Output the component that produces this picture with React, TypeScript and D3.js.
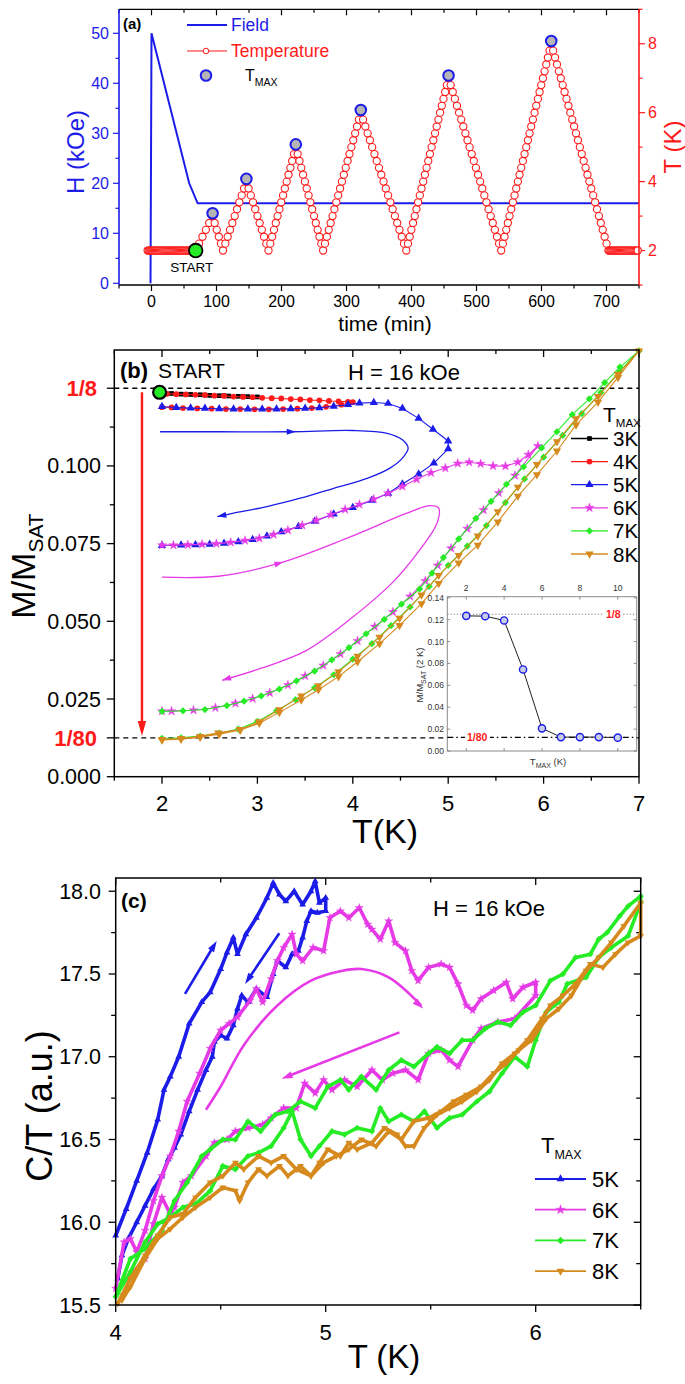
import React from "react";
import * as d3 from "d3";

type P = [number, number];
const FONT = "'Liberation Sans', Arial, Helvetica, sans-serif";
const BLUE = "#1c1ce8";
const RED = "#ff1a1a";
const MAG = "#e63ae6";
const GRN = "#25ec25";
const ORG = "#d68a1e";

// ================= Panel (a): protocol =================
const fieldTime = [-1.5, 0, 58, 71, 750];
const fieldH = [0, 50, 20, 16, 16];
const sweepTime = [-6, 68, 94, 110, 146, 180, 222, 264, 322, 392, 457, 538, 615, 703, 748];
const sweepTemp = [2, 2, 3, 2, 4, 2, 5, 2, 6, 2, 7, 2, 8, 2, 2];
const tempLevels = [2.0, 2.2, 2.4, 2.6, 2.8, 3.0, 3.2, 3.4, 3.6, 3.8, 4.0, 4.2, 4.4, 4.6, 4.8, 5.0, 5.2, 5.4, 5.6, 5.8, 6.0, 6.2, 6.4, 6.6, 6.8, 7.0, 7.2, 7.4, 7.6, 7.8, 8.0];
const holdStep = 1.6;
const tmaxTime = [94, 146, 222, 322, 457, 615];
const tmaxTemp = [3, 4, 5, 6, 7, 8];
const startTime = 68;
const startTemp = 2;
const timeTicks = [0, 100, 200, 300, 400, 500, 600, 700];
const hTicks = [0, 10, 20, 30, 40, 50];
const tTicksA = [2, 4, 6, 8];

// ================= Panel (b): M/Msat vs T =================
const bTicks = [2, 3, 4, 5, 6, 7];
const bMLabels = [0, 0.025, 0.05, 0.075, 0.1];
const bFracVals = [0.125, 0.0125];
const bFracLabels = ["1/8", "1/80"];
const bStart: P = [1.975, 0.1237];

const b3K: P[] = [[2.0, 0.1236], [2.1, 0.1233], [2.2, 0.1231], [2.3, 0.123], [2.4, 0.1229], [2.5, 0.1227], [2.6, 0.1226], [2.7, 0.1225], [2.8, 0.1224], [2.9, 0.1223], [3.0, 0.1222], [2.85, 0.1224], [2.65, 0.1226], [2.45, 0.1228], [2.25, 0.123], [2.05, 0.1232]];
const b4K: P[] = [[2.05, 0.1232], [2.15, 0.1231], [2.25, 0.123], [2.35, 0.1229], [2.45, 0.1228], [2.55, 0.1226], [2.65, 0.1225], [2.75, 0.1223], [2.85, 0.1222], [2.95, 0.1221], [3.05, 0.1219], [3.15, 0.1218], [3.25, 0.1217], [3.35, 0.1215], [3.45, 0.1214], [3.55, 0.1212], [3.65, 0.1211], [3.75, 0.1209], [3.85, 0.1208], [3.95, 0.1206], [4.0, 0.1205],
  [3.88, 0.1197], [3.72, 0.119], [3.57, 0.1186], [3.42, 0.1184], [3.27, 0.1183], [3.12, 0.1182], [2.97, 0.1182], [2.82, 0.1183], [2.67, 0.1183], [2.52, 0.1184], [2.37, 0.1185], [2.22, 0.1186], [2.1, 0.1188], [2.0, 0.1189]];
const b5K: P[] = [[2.0, 0.1191], [2.15, 0.1188], [2.3, 0.1186], [2.45, 0.1185], [2.6, 0.1184], [2.75, 0.1183], [2.9, 0.1183], [3.05, 0.1183], [3.2, 0.1183], [3.35, 0.1184], [3.5, 0.1185], [3.65, 0.1187], [3.8, 0.1192], [3.95, 0.1197], [4.07, 0.1202], [4.22, 0.1204], [4.37, 0.1201], [4.52, 0.1185], [4.69, 0.1153], [4.84, 0.1118], [5.0, 0.108],
  [5.0, 0.1055], [4.85, 0.1009], [4.69, 0.0974], [4.52, 0.0942], [4.37, 0.0912], [4.2, 0.0889], [4.0, 0.0866], [3.8, 0.0845], [3.6, 0.0822], [3.43, 0.0805], [3.25, 0.0788], [3.1, 0.0774], [2.95, 0.0763], [2.8, 0.0756], [2.65, 0.0751], [2.5, 0.0748], [2.35, 0.0746], [2.2, 0.0745], [2.0, 0.0744]];
const b6K: P[] = [[2.0, 0.0745], [2.12, 0.0745], [2.27, 0.0746], [2.42, 0.0748], [2.57, 0.075], [2.72, 0.0754], [2.87, 0.076], [3.02, 0.0767], [3.17, 0.0779], [3.32, 0.0793], [3.47, 0.0809], [3.62, 0.0825], [3.77, 0.0843], [3.92, 0.086], [4.07, 0.0876], [4.22, 0.0893], [4.37, 0.0912], [4.52, 0.0934], [4.67, 0.0957], [4.82, 0.0978], [4.97, 0.0993], [5.1, 0.1008], [5.22, 0.1012], [5.34, 0.1007], [5.47, 0.1], [5.6, 0.0999], [5.73, 0.1012], [5.84, 0.1036], [5.94, 0.1064],
  [5.7, 0.0969], [5.53, 0.0913], [5.37, 0.0858], [5.2, 0.0798], [5.03, 0.0735], [4.89, 0.068], [4.76, 0.063], [4.6, 0.058], [4.42, 0.053], [4.23, 0.0483], [4.05, 0.0437], [3.87, 0.0395], [3.69, 0.0358], [3.5, 0.0324], [3.32, 0.0295], [3.13, 0.027], [2.95, 0.0251], [2.77, 0.0236], [2.56, 0.0222], [2.33, 0.0214], [2.1, 0.0211], [2.0, 0.0211]];
const b7K: P[] = [[2.0, 0.021], [2.22, 0.0212], [2.45, 0.0216], [2.68, 0.0229], [2.86, 0.0243], [3.04, 0.026], [3.23, 0.0282], [3.41, 0.0308], [3.6, 0.034], [3.78, 0.0376], [3.96, 0.0415], [4.14, 0.046], [4.33, 0.0506], [4.51, 0.0555], [4.7, 0.0604], [4.83, 0.0655], [4.95, 0.0705], [5.11, 0.0765], [5.29, 0.0831], [5.45, 0.0886], [5.61, 0.0941], [5.79, 0.0997], [5.98, 0.1058], [6.14, 0.111], [6.3, 0.1165], [6.48, 0.1216], [6.64, 0.1268], [6.8, 0.1318], [7.0, 0.137],
  [6.8, 0.1305], [6.6, 0.1236], [6.4, 0.1168], [6.2, 0.1098], [6.0, 0.1028], [5.8, 0.0958], [5.6, 0.0882], [5.4, 0.0808], [5.2, 0.0742], [5.0, 0.068], [4.8, 0.0612], [4.6, 0.0546], [4.4, 0.0486], [4.2, 0.0428], [4.0, 0.0378], [3.8, 0.0328], [3.6, 0.0286], [3.4, 0.0248], [3.2, 0.0212], [3.0, 0.0178], [2.8, 0.0153], [2.6, 0.014], [2.4, 0.0131], [2.2, 0.0125], [2.0, 0.0123]];
const b8K: P[] = [[2.0, 0.0118], [2.2, 0.0121], [2.4, 0.0127], [2.6, 0.0137], [2.82, 0.015], [3.02, 0.0172], [3.23, 0.0207], [3.46, 0.0247], [3.64, 0.028], [3.85, 0.0322], [4.05, 0.037], [4.28, 0.0428], [4.49, 0.0487], [4.72, 0.0557], [4.9, 0.0622], [5.11, 0.0688], [5.31, 0.0745], [5.52, 0.082], [5.73, 0.0903], [5.93, 0.0972], [6.14, 0.1048], [6.34, 0.1132], [6.57, 0.1205], [6.78, 0.1285], [7.0, 0.137],
  [6.78, 0.1295], [6.57, 0.1224], [6.34, 0.1152], [6.14, 0.1078], [5.93, 0.1005], [5.73, 0.0932], [5.52, 0.0853], [5.31, 0.0775], [5.11, 0.0712], [4.9, 0.0648], [4.72, 0.0585], [4.49, 0.051], [4.28, 0.0449], [4.05, 0.0388], [3.85, 0.0338], [3.64, 0.0293], [3.46, 0.026], [3.23, 0.0216], [3.02, 0.0177], [2.82, 0.0152], [2.59, 0.0141], [2.4, 0.013], [2.2, 0.0123], [2.0, 0.012]];
const bBlueGuide: P[] = [[1.98, 0.111], [2.6, 0.111], [3.36, 0.111], [4.0, 0.1114], [4.36, 0.1105], [4.52, 0.1084], [4.58, 0.1057], [4.52, 0.1025], [4.39, 0.0993], [4.15, 0.096], [3.8, 0.0928], [3.45, 0.0896], [3.1, 0.0869], [2.75, 0.0848], [2.58, 0.0837]];
const bBlueMidArrow: P = [3.36, 0.111];
const bMagGuide: P[] = [[2.0, 0.0642], [2.59, 0.0645], [3.23, 0.0687], [3.96, 0.077], [4.56, 0.0847], [4.81, 0.0872], [4.9, 0.0864], [4.88, 0.0814], [4.69, 0.0725], [4.42, 0.0626], [3.96, 0.0504], [3.5, 0.0404], [3.04, 0.0349], [2.63, 0.031]];
const bMagMidArrow: P = [3.23, 0.0687];
const bRedArrowT = 1.79;
const bRedArrowM = [0.1237, 0.0131];
const bLegendLabels = ["3K", "4K", "5K", "6K", "7K", "8K"];

// inset
const insetTmax = [2, 3, 4, 5, 6, 7, 8, 9, 10];
const insetM = [0.1235, 0.1232, 0.1193, 0.0745, 0.0207, 0.0127, 0.0127, 0.0127, 0.0122];
const insetXTicks = [2, 4, 6, 8, 10];
const insetYTicks = [0, 0.02, 0.04, 0.06, 0.08, 0.1, 0.12, 0.14];

// ================= Panel (c): C/T vs T =================
const cTicks = [4, 5, 6];
const cYTicks = [15.5, 16.0, 16.5, 17.0, 17.5, 18.0];
const c5K: P[] = [[4.0, 15.92], [4.05, 16.08], [4.1, 16.25], [4.15, 16.42], [4.2, 16.62], [4.23, 16.8], [4.26, 16.88], [4.3, 17.0], [4.35, 17.2], [4.41, 17.33], [4.45, 17.39], [4.5, 17.53], [4.53, 17.63], [4.56, 17.72], [4.58, 17.62], [4.62, 17.74], [4.67, 17.84], [4.72, 17.96], [4.75, 18.05], [4.78, 17.98], [4.81, 17.94], [4.85, 18.0], [4.89, 17.92], [4.93, 18.0], [4.95, 18.06], [4.97, 17.93], [5.0, 17.96],
  [5.0, 17.88], [4.96, 17.87], [4.93, 17.88], [4.91, 17.82], [4.89, 17.72], [4.87, 17.64], [4.84, 17.62], [4.81, 17.54], [4.77, 17.58], [4.75, 17.5], [4.72, 17.36], [4.67, 17.41], [4.63, 17.33], [4.6, 17.37], [4.58, 17.29], [4.56, 17.19], [4.53, 17.11], [4.5, 17.13], [4.47, 17.09], [4.46, 17.0], [4.43, 16.92], [4.39, 16.8], [4.35, 16.67], [4.31, 16.53], [4.28, 16.45], [4.25, 16.38], [4.22, 16.28], [4.18, 16.2], [4.14, 16.1], [4.1, 16.0], [4.06, 15.9], [4.03, 15.8], [4.01, 15.66]];
const c6K: P[] = [[4.0, 15.6], [4.04, 15.88], [4.07, 15.9], [4.1, 15.82], [4.14, 15.95], [4.18, 16.13], [4.22, 16.28], [4.26, 16.4], [4.3, 16.55], [4.34, 16.73], [4.4, 16.9], [4.45, 17.05], [4.5, 17.16], [4.54, 17.2], [4.58, 17.24], [4.64, 17.34], [4.67, 17.41], [4.7, 17.33], [4.74, 17.47], [4.77, 17.58], [4.8, 17.66], [4.84, 17.74], [4.86, 17.62], [4.89, 17.58], [4.94, 17.66], [4.99, 17.64], [5.02, 17.84], [5.07, 17.88], [5.11, 17.84], [5.16, 17.9], [5.2, 17.8], [5.22, 17.77], [5.26, 17.71], [5.3, 17.82], [5.33, 17.69], [5.38, 17.64], [5.41, 17.52], [5.44, 17.46], [5.49, 17.54], [5.55, 17.56], [5.59, 17.54], [5.63, 17.44], [5.67, 17.31], [5.7, 17.28], [5.74, 17.35], [5.8, 17.4], [5.86, 17.45], [5.89, 17.35], [5.94, 17.42], [6.0, 17.45],
  [6.0, 17.37], [5.9, 17.23], [5.82, 17.21], [5.74, 17.17], [5.7, 17.1], [5.63, 16.94], [5.59, 16.98], [5.55, 17.04], [5.49, 17.02], [5.44, 16.86], [5.38, 16.92], [5.32, 16.9], [5.27, 16.86], [5.22, 16.92], [5.15, 16.82], [5.09, 16.86], [5.03, 16.8], [4.99, 16.86], [4.95, 16.78], [4.9, 16.84], [4.86, 16.69], [4.8, 16.69], [4.74, 16.63], [4.7, 16.59], [4.63, 16.57], [4.57, 16.55], [4.53, 16.5], [4.47, 16.48], [4.43, 16.4], [4.36, 16.28], [4.32, 16.24], [4.28, 16.09], [4.26, 16.05], [4.22, 16.15], [4.18, 15.99], [4.14, 15.78], [4.07, 15.68], [4.01, 15.6]];
const c7K: P[] = [[4.0, 15.55], [4.07, 15.78], [4.14, 15.84], [4.22, 15.95], [4.28, 16.13], [4.34, 16.24], [4.41, 16.4], [4.45, 16.44], [4.51, 16.5], [4.57, 16.5], [4.63, 16.61], [4.69, 16.55], [4.76, 16.65], [4.82, 16.67], [4.88, 16.73], [4.95, 16.69], [5.01, 16.82], [5.07, 16.86], [5.11, 16.8], [5.17, 16.88], [5.24, 16.8], [5.3, 16.92], [5.36, 16.98], [5.42, 16.94], [5.49, 17.02], [5.53, 17.06], [5.59, 17.02], [5.65, 17.1], [5.7, 17.1], [5.76, 17.17], [5.82, 17.21], [5.88, 17.19], [5.94, 17.27], [6.0, 17.31], [6.07, 17.46], [6.13, 17.5], [6.19, 17.6], [6.26, 17.62], [6.3, 17.71], [6.34, 17.75], [6.4, 17.85], [6.44, 17.91], [6.5, 17.97],
  [6.5, 17.93], [6.44, 17.73], [6.36, 17.66], [6.3, 17.6], [6.24, 17.48], [6.15, 17.44], [6.11, 17.33], [6.05, 17.27], [6.0, 17.1], [5.96, 16.94], [5.9, 17.0], [5.84, 16.9], [5.78, 16.79], [5.72, 16.73], [5.65, 16.65], [5.59, 16.63], [5.53, 16.57], [5.47, 16.67], [5.42, 16.61], [5.36, 16.65], [5.3, 16.61], [5.26, 16.69], [5.22, 16.55], [5.15, 16.57], [5.09, 16.53], [5.03, 16.55], [4.97, 16.46], [4.93, 16.4], [4.88, 16.5], [4.84, 16.67], [4.8, 16.57], [4.74, 16.46], [4.68, 16.42], [4.63, 16.4], [4.57, 16.32], [4.51, 16.34], [4.45, 16.19], [4.38, 16.11], [4.32, 16.09], [4.26, 16.03], [4.2, 15.99], [4.14, 15.88], [4.07, 15.7], [4.01, 15.57]];
const c8K: P[] = [[4.01, 15.51], [4.07, 15.66], [4.14, 15.8], [4.2, 15.92], [4.26, 16.03], [4.32, 16.05], [4.38, 16.15], [4.45, 16.24], [4.51, 16.28], [4.57, 16.36], [4.61, 16.32], [4.68, 16.4], [4.74, 16.36], [4.8, 16.4], [4.86, 16.32], [4.93, 16.28], [4.99, 16.36], [5.05, 16.4], [5.11, 16.44], [5.17, 16.5], [5.24, 16.46], [5.3, 16.55], [5.36, 16.5], [5.42, 16.61], [5.49, 16.63], [5.55, 16.67], [5.61, 16.73], [5.67, 16.77], [5.74, 16.82], [5.8, 16.9], [5.86, 16.96], [5.92, 17.04], [5.98, 17.1], [6.05, 17.23], [6.11, 17.29], [6.17, 17.37], [6.24, 17.52], [6.3, 17.6], [6.36, 17.69], [6.42, 17.79], [6.5, 17.93],
  [6.5, 17.73], [6.44, 17.69], [6.38, 17.62], [6.32, 17.54], [6.26, 17.56], [6.19, 17.44], [6.13, 17.37], [6.07, 17.31], [6.03, 17.23], [5.96, 17.1], [5.9, 17.02], [5.84, 16.96], [5.78, 16.86], [5.72, 16.79], [5.65, 16.73], [5.59, 16.69], [5.53, 16.65], [5.47, 16.57], [5.42, 16.46], [5.38, 16.46], [5.34, 16.53], [5.28, 16.57], [5.22, 16.48], [5.15, 16.44], [5.11, 16.48], [5.07, 16.4], [5.01, 16.44], [4.97, 16.36], [4.93, 16.28], [4.88, 16.34], [4.82, 16.28], [4.78, 16.34], [4.72, 16.28], [4.68, 16.32], [4.63, 16.24], [4.59, 16.13], [4.57, 16.19], [4.51, 16.21], [4.45, 16.15], [4.38, 16.09], [4.32, 16.03], [4.26, 15.96], [4.2, 15.9], [4.14, 15.78], [4.07, 15.61], [4.03, 15.53]];
const cBlueArrows: [P, P][] = [[[4.33, 17.38], [4.481, 17.7]], [[4.779, 17.746], [4.616, 17.44]]];
const cMagArc: P[] = [[4.43, 16.68], [4.5, 16.82], [4.61, 17.07], [4.77, 17.31], [4.93, 17.46], [5.08, 17.52], [5.17, 17.53], [5.3, 17.48], [5.455, 17.31]];
const cMagArrow: [P, P] = [[5.351, 17.147], [4.79, 16.867]];
const cLegendLabels = ["5K", "6K", "7K", "8K"];

// ================= helpers =================
function symPath(kind: string, size: number): string {
  const t: Record<string, any> = {
    square: d3.symbolSquare, circle: d3.symbolCircle, triangle: d3.symbolTriangle,
    star: d3.symbolStar, diamond: d3.symbolSquare, down: d3.symbolTriangle,
  };
  return d3.symbol().type(t[kind]).size(size)() as string;
}
function symRot(kind: string) {
  if (kind === "down") return " rotate(180)";
  if (kind === "diamond") return " rotate(45)";
  return "";
}

function Series(props: { data: P[]; x: any; y: any; color: string; kind: string; size: number; width: number }) {
  const { data, x, y, color, kind, size, width } = props;
  const line = d3.line<P>().x((d) => x(d[0])).y((d) => y(d[1]));
  const p = symPath(kind, size);
  return (
    <g>
      <path d={line(data) || ""} fill="none" stroke={color} strokeWidth={width} strokeLinejoin="round" />
      {data.map((d, i) => (
        <path key={i} d={p} transform={`translate(${x(d[0])},${y(d[1])})${symRot(kind)}`} fill={color} stroke={kind === "star" ? color : "none"} strokeWidth={kind === "star" ? 0.4 : 0} />
      ))}
    </g>
  );
}

function arrowHead(x1: number, y1: number, x2: number, y2: number, len: number, half: number) {
  const a = Math.atan2(y2 - y1, x2 - x1);
  const bx = x2 - len * Math.cos(a), by = y2 - len * Math.sin(a);
  const px = -Math.sin(a) * half, py = Math.cos(a) * half;
  return `M${x2},${y2}L${bx + px},${by + py}L${bx - px},${by - py}Z`;
}

export default function App() {
  const W = 685, H = 1384;

  const ax = d3.scaleLinear().domain([-50, 750]).range([119, 639]);
  const aH = d3.scaleLinear().domain([-0.34, 54.8]).range([285, 9.3]);
  const aT = d3.scaleLinear().domain([1, 9]).range([285, 9.3]);
  const aL = 119, aR = 639, aTop = 9.3, aBot = 285;

  const tempPts: P[] = [];
  for (let i = 0; i < sweepTime.length - 1; i++) {
    const t0 = sweepTime[i], t1 = sweepTime[i + 1], T0 = sweepTemp[i], T1 = sweepTemp[i + 1];
    if (T0 === T1) {
      for (let t = t0; t < t1 - 0.01; t += holdStep) tempPts.push([t, T0]);
    } else {
      const lv = T1 > T0 ? tempLevels.filter((v) => v >= T0 - 1e-6 && v < T1 - 1e-6) : tempLevels.filter((v) => v <= T0 + 1e-6 && v > T1 + 1e-6).reverse();
      lv.forEach((v) => tempPts.push([t0 + ((v - T0) / (T1 - T0)) * (t1 - t0), v]));
    }
  }
  tempPts.push([sweepTime[sweepTime.length - 1], sweepTemp[sweepTemp.length - 1]]);
  const tempLine = d3.line<P>().x((d) => ax(d[0])).y((d) => aT(d[1]))(sweepTime.map((t, i) => [t, sweepTemp[i]] as P));
  const fieldLine = d3.line<P>().x((d) => ax(d[0])).y((d) => aH(d[1]))(fieldTime.map((t, i) => [t, fieldH[i]] as P));

  const bx = d3.scaleLinear().domain([1.5, 7]).range([114.3, 639]);
  const by = d3.scaleLinear().domain([0, 0.1373]).range([776.7, 350]);
  const bL = 114.3, bR = 639, bTop = 350, bBot = 776.7;
  const ix = d3.scaleLinear().domain([1, 11]).range([447.3, 636.7]);
  const iy = d3.scaleLinear().domain([0, 0.141]).range([751, 596.7]);
  const guideLine = d3.line<P>().x((d) => bx(d[0])).y((d) => by(d[1])).curve(d3.curveCatmullRom.alpha(0.5));

  const cx = d3.scaleLinear().domain([4, 6.5]).range([115.7, 640.7]);
  const cy = d3.scaleLinear().domain([15.5, 18.08]).range([1305, 878]);
  const cL = 115.7, cR = 640.7, cTop = 878, cBot = 1305;
  const arcLine = d3.line<P>().x((d) => cx(d[0])).y((d) => cy(d[1])).curve(d3.curveCatmullRom.alpha(0.5));

  const bSeries = [
    { data: b3K, color: "#000", kind: "square", size: 22 },
    { data: b4K, color: RED, kind: "circle", size: 26 },
    { data: b5K, color: BLUE, kind: "triangle", size: 30 },
    { data: b6K, color: MAG, kind: "star", size: 26 },
    { data: b7K, color: GRN, kind: "diamond", size: 26 },
    { data: b8K, color: ORG, kind: "down", size: 30 },
  ];
  const cSeries = [
    { data: c5K, color: BLUE, kind: "triangle" },
    { data: c6K, color: MAG, kind: "star" },
    { data: c7K, color: GRN, kind: "diamond" },
    { data: c8K, color: ORG, kind: "down" },
  ];

  const blueMid = [bx(bBlueMidArrow[0]), by(bBlueMidArrow[1])];
  const magMid = [bx(bMagMidArrow[0]), by(bMagMidArrow[1])];
  const bgEnd = bBlueGuide.slice(-2).map((d) => [bx(d[0]), by(d[1])]);
  const mgEnd = bMagGuide.slice(-2).map((d) => [bx(d[0]), by(d[1])]);
  const maEnd = cMagArc.slice(-2).map((d) => [cx(d[0]), cy(d[1])]);

  return (
    <svg width={W} height={H} viewBox={`0 0 ${W} ${H}`} style={{ position: "absolute", left: 0, top: 0 }} fontFamily={FONT}>
      <rect width={W} height={H} fill="#fff" />

      {/* ================= PANEL A ================= */}
      <g>
        {d3.range(-50, 751, 50).map((v) => {
          const major = v % 100 === 0;
          const l = major ? 6 : 3.5;
          return (
            <g key={"at" + v}>
              <line x1={ax(v)} x2={ax(v)} y1={aBot} y2={aBot + l} stroke="#000" strokeWidth={1.2} />
              <line x1={ax(v)} x2={ax(v)} y1={aTop} y2={aTop + l} stroke="#000" strokeWidth={1.2} />
            </g>
          );
        })}
        {timeTicks.map((v) => (
          <text key={"atl" + v} x={ax(v)} y={307} fontSize={16} textAnchor="middle">{v}</text>
        ))}
        {d3.range(0, 55, 5).map((v) => (
          <line key={"ah" + v} x1={aL} x2={aL - (v % 10 === 0 ? 6 : 3.5)} y1={aH(v)} y2={aH(v)} stroke={BLUE} strokeWidth={1.2} />
        ))}
        {hTicks.map((v) => (
          <text key={"ahl" + v} x={109} y={aH(v) + 5.5} fontSize={16} textAnchor="end" fill={BLUE}>{v}</text>
        ))}
        {d3.range(1, 9.01, 1).map((v) => (
          <line key={"aT" + v} x1={aR} x2={aR + (v % 2 === 0 ? 6 : 3.5)} y1={aT(v)} y2={aT(v)} stroke={RED} strokeWidth={1.2} />
        ))}
        {tTicksA.map((v) => (
          <text key={"aTl" + v} x={648} y={aT(v) + 5.5} fontSize={16} textAnchor="start" fill={RED}>{v}</text>
        ))}
        <path d={fieldLine || ""} fill="none" stroke={BLUE} strokeWidth={2} />
        <path d={tempLine || ""} fill="none" stroke={RED} strokeWidth={1} />
        {tempPts.map((d, i) => (
          <circle key={"tp" + i} cx={ax(d[0])} cy={aT(d[1])} r={3.6} fill="#fff" stroke={RED} strokeWidth={1.1} />
        ))}
        {tmaxTime.map((t, i) => (
          <circle key={"tm" + i} cx={ax(t)} cy={aT(tmaxTemp[i] + 0.08)} r={5.3} fill="#b5b5b5" stroke={BLUE} strokeWidth={2} />
        ))}
        <circle cx={ax(startTime)} cy={aT(startTemp)} r={6.8} fill={GRN} stroke="#000" strokeWidth={1.8} />
        <text x={ax(startTime) - 4} y={272} fontSize={13.5} textAnchor="middle">START</text>
        <line x1={aL} x2={aR} y1={aTop} y2={aTop} stroke="#000" strokeWidth={1.3} />
        <line x1={aL} x2={aR} y1={aBot} y2={aBot} stroke="#000" strokeWidth={1.3} />
        <line x1={aL} x2={aL} y1={aTop} y2={aBot} stroke={BLUE} strokeWidth={1.6} />
        <line x1={aR} x2={aR} y1={aTop} y2={aBot} stroke={RED} strokeWidth={1.6} />
        <text x={123} y={29} fontSize={15} fontWeight="bold">(a)</text>
        <line x1={187} x2={227} y1={25} y2={25} stroke={BLUE} strokeWidth={2} />
        <text x={231} y={31} fontSize={17.5} fill={BLUE}>Field</text>
        <line x1={187} x2={227} y1={51} y2={51} stroke={RED} strokeWidth={1.2} />
        <circle cx={206} cy={51} r={2.8} fill="#fff" stroke={RED} strokeWidth={1} />
        <text x={231} y={57} fontSize={17.5} fill={RED}>Temperature</text>
        <circle cx={206} cy={75.5} r={5.3} fill="#b5b5b5" stroke={BLUE} strokeWidth={2} />
        <text x={245} y={81} fontSize={16}>T<tspan fontSize={10.5} dy={5}>MAX</tspan></text>
        <text transform="translate(84,152) rotate(-90)" fontSize={24} textAnchor="middle" fill={BLUE}>H (kOe)</text>
        <text transform="translate(681,147) rotate(-90)" fontSize={24} textAnchor="middle" fill={RED}>T (K)</text>
        <text x={385} y={331} fontSize={21} textAnchor="middle">time (min)</text>
      </g>

      {/* ================= PANEL B ================= */}
      <g>
        {d3.range(1.5, 7.01, 0.5).map((v) => {
          const major = Math.abs(v - Math.round(v)) < 1e-6;
          const l = major ? 7 : 4;
          return (
            <g key={"bt" + v}>
              <line x1={bx(v)} x2={bx(v)} y1={bBot} y2={bBot + l} stroke="#000" strokeWidth={1.3} />
              <line x1={bx(v)} x2={bx(v)} y1={bTop} y2={bTop + l} stroke="#000" strokeWidth={1.3} />
            </g>
          );
        })}
        {bTicks.map((v) => (
          <text key={"btl" + v} x={bx(v)} y={811} fontSize={22} textAnchor="middle">{v}</text>
        ))}
        {d3.range(0, 0.1251, 0.0125).map((v, i) => {
          const major = i % 2 === 0 || i === 1 || i === 10;
          return <line key={"bm" + i} x1={bL} x2={bL - (major ? 7.5 : 4.5)} y1={by(v)} y2={by(v)} stroke="#000" strokeWidth={1.3} />;
        })}
        {bMLabels.map((v) => (
          <text key={"bml" + v} x={101} y={by(v) + 7.5} fontSize={21.5} textAnchor="end">{v.toFixed(3)}</text>
        ))}
        {bFracVals.map((v, i) => (
          <text key={"bf" + i} x={97} y={by(v) + 8} fontSize={22} fontWeight="bold" textAnchor="end" fill={RED}>{bFracLabels[i]}</text>
        ))}
        {bFracVals.map((v, i) => (
          <line key={"bd" + i} x1={bL} x2={bR} y1={by(v)} y2={by(v)} stroke="#000" strokeWidth={1.3} strokeDasharray="5,4" />
        ))}
        <path d={guideLine(bBlueGuide) || ""} fill="none" stroke={BLUE} strokeWidth={1.3} />
        <path d={arrowHead(blueMid[0] - 5, blueMid[1], blueMid[0] + 4, blueMid[1], 9, 3)} fill={BLUE} />
        <path d={arrowHead(bgEnd[0][0], bgEnd[0][1], bgEnd[1][0], bgEnd[1][1], 9, 3)} fill={BLUE} />
        <path d={guideLine(bMagGuide) || ""} fill="none" stroke={MAG} strokeWidth={1.3} />
        <path d={arrowHead(magMid[0] - 5, magMid[1] + 1.5, magMid[0] + 4, magMid[1] - 1.2, 9, 3)} fill={MAG} />
        <path d={arrowHead(mgEnd[0][0], mgEnd[0][1], mgEnd[1][0], mgEnd[1][1], 9, 3)} fill={MAG} />
        <line x1={bx(bRedArrowT)} x2={bx(bRedArrowT)} y1={by(bRedArrowM[0])} y2={by(bRedArrowM[1]) - 12} stroke={RED} strokeWidth={2.4} />
        <path d={arrowHead(bx(bRedArrowT), by(bRedArrowM[0]), bx(bRedArrowT), by(bRedArrowM[1]), 15, 4.2)} fill={RED} />
        {bSeries.map((s, i) => (
          <Series key={"bs" + i} data={s.data} x={bx} y={by} color={s.color} kind={s.kind} size={s.size} width={1.1} />
        ))}
        <circle cx={bx(bStart[0])} cy={by(bStart[1])} r={6.5} fill={GRN} stroke="#000" strokeWidth={2.2} />
        <g>
          <rect x={ix(1)} y={iy(0.141)} width={ix(11) - ix(1)} height={iy(0) - iy(0.141)} fill="#fff" stroke="#8a8a8a" strokeWidth={1} />
          {insetXTicks.map((v) => (
            <g key={"ixt" + v}>
              <text x={ix(v)} y={591} fontSize={8.5} textAnchor="middle" fill="#333">{v}</text>
              <line x1={ix(v)} x2={ix(v)} y1={iy(0)} y2={iy(0) - 3} stroke="#777" strokeWidth={0.8} />
              <line x1={ix(v)} x2={ix(v)} y1={iy(0.141)} y2={iy(0.141) + 3} stroke="#777" strokeWidth={0.8} />
            </g>
          ))}
          {insetYTicks.map((v) => (
            <g key={"iyt" + v}>
              <text x={444} y={iy(v) + 3} fontSize={8.5} textAnchor="end" fill="#333">{v.toFixed(2)}</text>
              <line x1={ix(1)} x2={ix(1) + 3} y1={iy(v)} y2={iy(v)} stroke="#777" strokeWidth={0.8} />
              <line x1={ix(11)} x2={ix(11) - 3} y1={iy(v)} y2={iy(v)} stroke="#777" strokeWidth={0.8} />
            </g>
          ))}
          <line x1={ix(1)} x2={ix(11)} y1={iy(0.125)} y2={iy(0.125)} stroke="#777" strokeWidth={1} strokeDasharray="1.2,2" />
          <line x1={ix(1)} x2={ix(11)} y1={iy(0.0125)} y2={iy(0.0125)} stroke="#000" strokeWidth={1.3} strokeDasharray="6,3,1.5,3" />
          <rect x={604} y={iy(0.125) - 6} width={18} height={12} fill="#fff" />
          <text x={606} y={iy(0.125) + 4} fontSize={10.5} fontWeight="bold" fill={RED}>1/8</text>
          <rect x={465} y={iy(0.0125) - 6} width={25} height={12} fill="#fff" />
          <text x={467} y={iy(0.0125) + 4} fontSize={10.5} fontWeight="bold" fill={RED}>1/80</text>
          <path d={d3.line<number>().x((d, i) => ix(insetTmax[i])).y((d) => iy(d))(insetM) || ""} fill="none" stroke="#222" strokeWidth={1} />
          {insetM.map((m, i) => (
            <circle key={"ic" + i} cx={ix(insetTmax[i])} cy={iy(m)} r={3.6} fill="#c9cde8" stroke={BLUE} strokeWidth={1.4} />
          ))}
          <text x={548} y={765} fontSize={9.5} textAnchor="middle" fill="#333">T<tspan fontSize={7} dy={3}>MAX</tspan><tspan dy={-3}> (K)</tspan></text>
          <text transform="translate(423,675) rotate(-90)" fontSize={9.5} textAnchor="middle" fill="#333">M/M<tspan fontSize={7} dy={3}>SAT</tspan><tspan dy={-3}> (2 K)</tspan></text>
        </g>
        <rect x={bL} y={bTop} width={bR - bL} height={bBot - bTop} fill="none" stroke="#000" strokeWidth={1.5} />
        <text x={120} y={378} fontSize={22} fontWeight="bold">(b)</text>
        <text x={158} y={378} fontSize={21}>START</text>
        <text x={404} y={380} fontSize={22} textAnchor="middle">H = 16 kOe</text>
        <text x={603} y={422} fontSize={21}>T<tspan fontSize={11.5} dy={5}>MAX</tspan></text>
        {bSeries.map((s, i) => {
          const yy = 438.5 + i * 23.1;
          return (
            <g key={"bl" + i}>
              <line x1={571} x2={608} y1={yy} y2={yy} stroke={s.color} strokeWidth={1.3} />
              <path d={symPath(s.kind, s.size)} transform={`translate(589.5,${yy})${symRot(s.kind)}`} fill={s.color} stroke={s.kind === "star" ? s.color : "none"} strokeWidth={0.4} />
              <text x={613} y={yy + 7.5} fontSize={20.5}>{bLegendLabels[i]}</text>
            </g>
          );
        })}
        <text transform="translate(35,566) rotate(-90)" fontSize={34} textAnchor="middle">M/M<tspan fontSize={21} dy={8}>SAT</tspan></text>
        <text x={385} y={843} fontSize={34} textAnchor="middle">T(K)</text>
      </g>

      {/* ================= PANEL C ================= */}
      <g>
        {d3.range(4, 6.51, 0.5).map((v) => {
          const major = Math.abs(v - Math.round(v)) < 1e-6;
          const l = major ? 7 : 4.5;
          return (
            <g key={"ct" + v}>
              <line x1={cx(v)} x2={cx(v)} y1={cBot} y2={cBot + l} stroke="#000" strokeWidth={1.3} />
              <line x1={cx(v)} x2={cx(v)} y1={cTop} y2={cTop + l} stroke="#000" strokeWidth={1.3} />
            </g>
          );
        })}
        {cTicks.map((v) => (
          <text key={"ctl" + v} x={cx(v)} y={1340} fontSize={22} textAnchor="middle">{v}</text>
        ))}
        {d3.range(15.5, 18.01, 0.25).map((v, i) => {
          const major = i % 2 === 0;
          const l = major ? 7 : 4.5;
          return (
            <g key={"cy" + i}>
              <line x1={cL} x2={cL - l} y1={cy(v)} y2={cy(v)} stroke="#000" strokeWidth={1.3} />
              <line x1={cR} x2={cR - l} y1={cy(v)} y2={cy(v)} stroke="#000" strokeWidth={1.3} />
            </g>
          );
        })}
        {cYTicks.map((v) => (
          <text key={"cyl" + v} x={101} y={cy(v) + 7.5} fontSize={21.5} textAnchor="end">{v.toFixed(1)}</text>
        ))}
        {cSeries.map((s, i) => (
          <Series key={"cs" + i} data={s.data} x={cx} y={cy} color={s.color} kind={s.kind} size={20} width={3.6} />
        ))}
        {cBlueArrows.map((a, i) => {
          const x1 = cx(a[0][0]), y1 = cy(a[0][1]), x2 = cx(a[1][0]), y2 = cy(a[1][1]);
          const ang = Math.atan2(y2 - y1, x2 - x1);
          return (
            <g key={"cba" + i}>
              <line x1={x1} y1={y1} x2={x2 - 8 * Math.cos(ang)} y2={y2 - 8 * Math.sin(ang)} stroke={BLUE} strokeWidth={2.6} />
              <path d={arrowHead(x1, y1, x2, y2, 11, 3.5)} fill={BLUE} />
            </g>
          );
        })}
        <path d={arcLine(cMagArc) || ""} fill="none" stroke={MAG} strokeWidth={2.6} />
        <path d={arrowHead(maEnd[0][0], maEnd[0][1], maEnd[1][0] + 2, maEnd[1][1] + 3, 11, 3.5)} fill={MAG} />
        {(() => {
          const x1 = cx(cMagArrow[0][0]), y1 = cy(cMagArrow[0][1]), x2 = cx(cMagArrow[1][0]), y2 = cy(cMagArrow[1][1]);
          const ang = Math.atan2(y2 - y1, x2 - x1);
          return (
            <g>
              <line x1={x1} y1={y1} x2={x2 - 8 * Math.cos(ang)} y2={y2 - 8 * Math.sin(ang)} stroke={MAG} strokeWidth={2.6} />
              <path d={arrowHead(x1, y1, x2, y2, 11, 3.5)} fill={MAG} />
            </g>
          );
        })()}
        <rect x={cL} y={cTop} width={cR - cL} height={cBot - cTop} fill="none" stroke="#000" strokeWidth={1.5} />
        <text x={121} y={908} fontSize={21} fontWeight="bold">(c)</text>
        <text x={433} y={916} fontSize={22}>H = 16 kOe</text>
        <text x={541} y={1153} fontSize={22}>T<tspan fontSize={12.5} dy={6}>MAX</tspan></text>
        {cSeries.map((s, i) => {
          const yy = 1179 + i * 30.7;
          return (
            <g key={"cl" + i}>
              <line x1={535} x2={586} y1={yy} y2={yy} stroke={s.color} strokeWidth={1.8} />
              <path d={symPath(s.kind, 28)} transform={`translate(560.5,${yy})${symRot(s.kind)}`} fill={s.color} stroke={s.kind === "star" ? s.color : "none"} strokeWidth={0.4} />
              <text x={592} y={yy + 8} fontSize={22}>{cLegendLabels[i]}</text>
            </g>
          );
        })}
        <text transform="translate(52,1106) rotate(-90)" fontSize={36} textAnchor="middle">C/T (a.u.)</text>
        <text x={384} y={1368} fontSize={33} textAnchor="middle">T (K)</text>
      </g>
    </svg>
  );
}
